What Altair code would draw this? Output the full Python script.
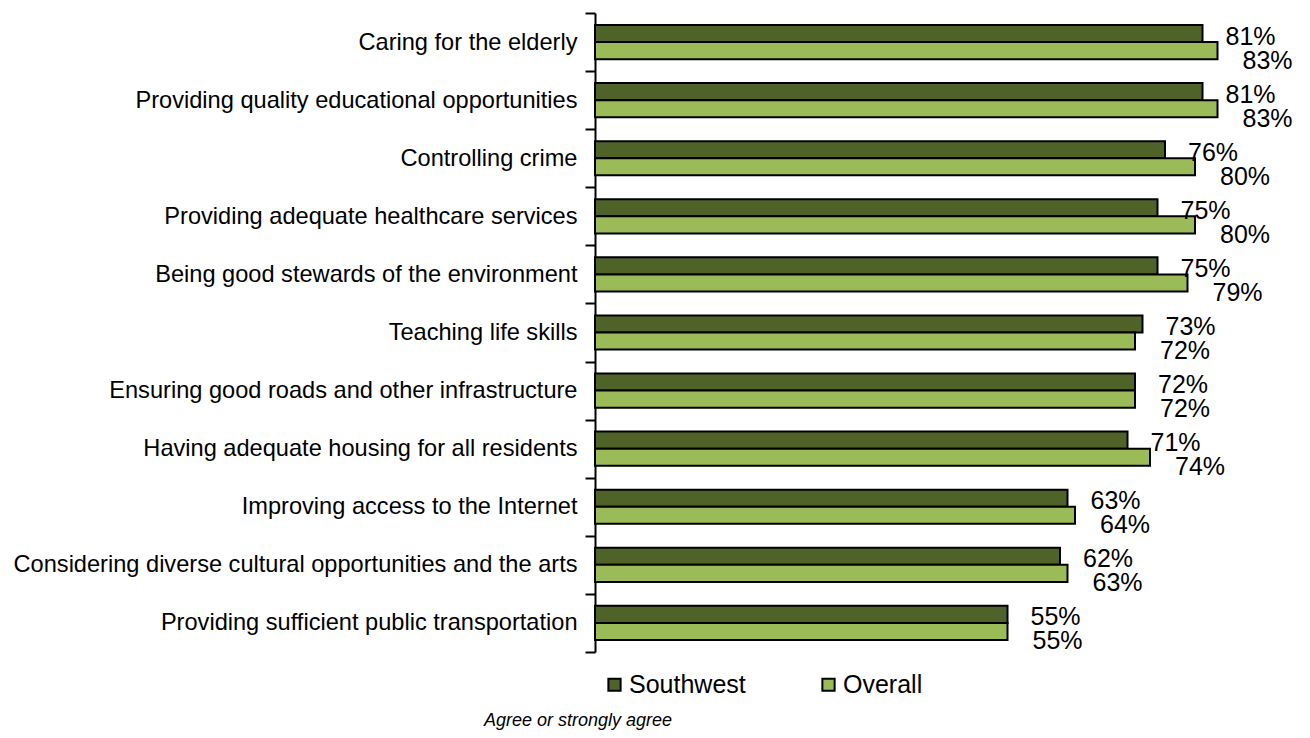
import altair as alt
import pandas as pd

categories = [
    "Caring for the elderly",
    "Providing quality educational opportunities",
    "Controlling crime",
    "Providing adequate healthcare services",
    "Being good stewards of the environment",
    "Teaching life skills",
    "Ensuring good roads and other infrastructure",
    "Having adequate housing for all residents",
    "Improving access to the Internet",
    "Considering diverse cultural opportunities and the arts",
    "Providing sufficient public transportation",
]
southwest = [81, 81, 76, 75, 75, 73, 72, 71, 63, 62, 55]
overall = [83, 83, 80, 80, 79, 72, 72, 74, 64, 63, 55]
series_names = ["Southwest", "Overall"]
series_colors = ["#4F6228", "#9BBB59"]

rows = []
for c, s, o in zip(categories, southwest, overall):
    rows.append({"cat": c, "series": "Southwest", "value": s / 100})
    rows.append({"cat": c, "series": "Overall", "value": o / 100})
df = pd.DataFrame(rows)

FONT = "Liberation Sans"

y_enc = alt.Y(
    "cat:N",
    sort=categories,
    title=None,
    scale=alt.Scale(paddingInner=0, paddingOuter=0),
    axis=alt.Axis(
        tickBand="extent",
        tickSize=10,
        tickWidth=2,
        tickColor="black",
        domainColor="black",
        domainWidth=2,
        labelPadding=8,
        labelFontSize=23.6,
        labelFont=FONT,
        labelColor="black",
        labelLimit=800,
        grid=False,
    ),
)
yoff_enc = alt.YOffset(
    "series:N", sort=series_names, scale=alt.Scale(paddingOuter=0.7, paddingInner=0)
)
x_enc = alt.X("value:Q", axis=None, scale=alt.Scale(domain=[0, 0.9]))

bars = alt.Chart(df).mark_bar(stroke="black", strokeWidth=2).encode(
    y=y_enc,
    yOffset=yoff_enc,
    x=x_enc,
    color=alt.Color(
        "series:N",
        sort=series_names,
        scale=alt.Scale(domain=series_names, range=series_colors),
        legend=alt.Legend(
            title=None,
            orient="none",
            direction="horizontal",
            legendX=7,
            legendY=659,
            symbolType="square",
            symbolSize=150,
            symbolStrokeColor="black",
            symbolStrokeWidth=2,
            labelFontSize=25,
            labelFont=FONT,
            labelColor="black",
            columnPadding=70,
            labelOffset=2,
        ),
    ),
)

text_sw = alt.Chart(df).transform_filter(alt.datum.series == "Southwest").mark_text(
    align="left", baseline="middle", dx=23, dy=3, fontSize=25, font=FONT, color="black"
).encode(y=y_enc, yOffset=yoff_enc, x=x_enc, text=alt.Text("value:Q", format=".0%"))

text_ov = alt.Chart(df).transform_filter(alt.datum.series == "Overall").mark_text(
    align="left", baseline="middle", dx=25, dy=10, fontSize=25, font=FONT, color="black"
).encode(y=y_enc, yOffset=yoff_enc, x=x_enc, text=alt.Text("value:Q", format=".0%"))

chart = (
    alt.layer(bars, text_sw, text_ov)
    .properties(
        width=675,
        height=639,
        autosize=alt.AutoSizeParams(type="none"),
        padding={"left": 587, "top": 5, "right": 32, "bottom": 78},
        background="white",
        title=alt.TitleParams(
            "Agree or strongly agree",
            orient="bottom",
            anchor="start",
            frame="group",
            dx=-111,
            offset=14,
            fontSize=18,
            font=FONT,
            fontStyle="italic",
            fontWeight="normal",
            color="black",
        ),
    )
    .configure_view(stroke=None, strokeWidth=0)
)

chart.save("out.html", embed_options={"renderer": "svg", "actions": False})
